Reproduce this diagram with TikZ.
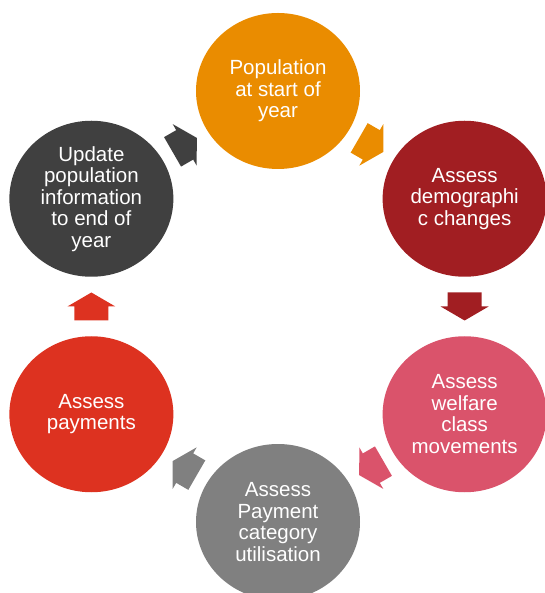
\documentclass[tikz,border=0pt]{standalone}
\usepackage{fontspec}
\setmainfont{Liberation Sans}
\usetikzlibrary{shapes.geometric}

\definecolor{popOrange}{RGB}{234,140,0}
\definecolor{demogRed}{RGB}{161,30,34}
\definecolor{welfarePink}{RGB}{218,83,107}
\definecolor{paycatGrey}{RGB}{128,128,128}
\definecolor{paymentsRed}{RGB}{221,50,32}
\definecolor{updateGrey}{RGB}{64,64,64}

\begin{document}
\begin{tikzpicture}
        [
            x = 1pt, y = 1pt,
            stage/.style = {ellipse, minimum width = 164pt, minimum height = 156pt, inner sep = 0pt,
                            text = white, align = center, font = \fontsize{20.5}{21.5}\selectfont},
            cyclearrow/.pic = {
                    \fill[#1] (-14,-17) -- (0,-17) -- (0,-24) -- (14,0) -- (0,24) -- (0,17) -- (-14,17) -- cycle;
                },
        ]

        \useasboundingbox (-278,-286.5) rectangle (266,306.5);

        \node[stage, fill = popOrange]   (popstart) at (90:215.5)   {Population\\at start of\\year};
        \node[stage, fill = demogRed]    (demog)    at (30:215.5)   {Assess\\demographi\\c changes};
        \node[stage, fill = welfarePink] (welfare)  at (-30:215.5)  {Assess\\welfare\\class\\movements};
        \node[stage, fill = paycatGrey]  (paycat)   at (-90:215.5)  {Assess\\Payment\\category\\utilisation};
        \node[stage, fill = paymentsRed] (payments) at (-150:215.5) {Assess\\payments};
        \node[stage, fill = updateGrey]  (update)   at (150:215.5)  {Update\\population\\information\\to end of\\year};

        \foreach \from/\to/\col in {popstart/demog/popOrange, demog/welfare/demogRed, welfare/paycat/welfarePink,
                                    paycat/payments/paycatGrey, payments/update/paymentsRed, update/popstart/updateGrey}
            \path (\from) -- (\to) pic[pos = 0.5, sloped, allow upside down] {cyclearrow = \col};

    \end{tikzpicture}
\end{document}
